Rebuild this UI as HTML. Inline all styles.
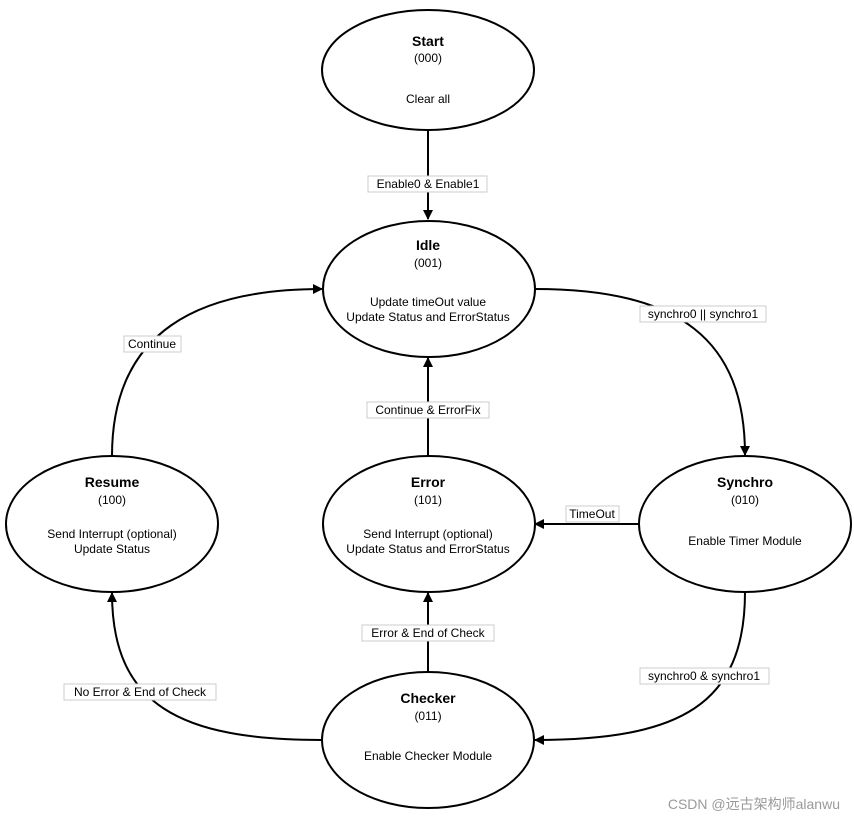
<!DOCTYPE html>
<html><head><meta charset="utf-8"><style>
html,body{margin:0;padding:0;background:#fff;}
svg{display:block;}
text{font-family:"Liberation Sans","Noto Sans CJK SC",sans-serif;font-size:12px;fill:#000;}
.t{font-weight:bold;font-size:14px;}
.lb{fill:#fff;stroke:#ccc;stroke-width:1;}
</style></head><body>
<svg width="854" height="822" viewBox="0 0 854 822" xmlns="http://www.w3.org/2000/svg">
<defs><marker id="a" markerWidth="10" markerHeight="10" refX="9" refY="5" orient="auto" markerUnits="userSpaceOnUse"><path d="M0,0 L10,5 L0,10 z" fill="#000"/></marker></defs>
<g fill="none" stroke="#000" stroke-width="2">
<path d="M428,131 L428,219" marker-end="url(#a)"/>
<path d="M535,289 C680,289 745,340 745,455" marker-end="url(#a)"/>
<path d="M112,456 C112,330 200,289 322,289" marker-end="url(#a)"/>
<path d="M428,456 L428,358" marker-end="url(#a)"/>
<path d="M639,524 L535,524" marker-end="url(#a)"/>
<path d="M745,592 C745,705 680,740 535,740" marker-end="url(#a)"/>
<path d="M428,672 L428,593" marker-end="url(#a)"/>
<path d="M322,740 C180,740 112,705 112,593" marker-end="url(#a)"/>
</g>
<g fill="#fff" stroke="#000" stroke-width="2">
<ellipse cx="428" cy="70" rx="106" ry="60"/>
<ellipse cx="429" cy="289" rx="106" ry="68"/>
<ellipse cx="112" cy="524" rx="106" ry="68"/>
<ellipse cx="429" cy="524" rx="106" ry="68"/>
<ellipse cx="745" cy="524" rx="106" ry="68"/>
<ellipse cx="428" cy="740" rx="106" ry="68"/>
</g>
<g text-anchor="middle">
<text class="t" x="428" y="46">Start</text><text x="428" y="62">(000)</text><text x="428" y="103">Clear all</text>
<text class="t" x="428" y="250">Idle</text><text x="428" y="267">(001)</text><text x="428" y="306">Update timeOut value</text><text x="428" y="321">Update Status and ErrorStatus</text>
<text class="t" x="112" y="487">Resume</text><text x="112" y="504">(100)</text><text x="112" y="538">Send Interrupt (optional)</text><text x="112" y="553">Update Status</text>
<text class="t" x="428" y="487">Error</text><text x="428" y="504">(101)</text><text x="428" y="538">Send Interrupt (optional)</text><text x="428" y="553">Update Status and ErrorStatus</text>
<text class="t" x="745" y="487">Synchro</text><text x="745" y="504">(010)</text><text x="745" y="545">Enable Timer Module</text>
<text class="t" x="428" y="703">Checker</text><text x="428" y="720">(011)</text><text x="428" y="760">Enable Checker Module</text>
</g>
<g>
<rect class="lb" x="368" y="176" width="119" height="16"/>
<rect class="lb" x="640" y="306" width="126" height="16"/>
<rect class="lb" x="124" y="336" width="57" height="16"/>
<rect class="lb" x="367" y="402" width="122" height="16"/>
<rect class="lb" x="566" y="506" width="53" height="16"/>
<rect class="lb" x="640" y="668" width="129" height="16"/>
<rect class="lb" x="362" y="625" width="132" height="16"/>
<rect class="lb" x="64" y="684" width="152" height="16"/>
</g>
<g text-anchor="middle">
<text x="428" y="188">Enable0 &amp; Enable1</text>
<text x="703" y="318">synchro0 || synchro1</text>
<text x="152" y="348">Continue</text>
<text x="428" y="414">Continue &amp; ErrorFix</text>
<text x="592" y="518">TimeOut</text>
<text x="704" y="680">synchro0 &amp; synchro1</text>
<text x="428" y="637">Error &amp; End of Check</text>
<text x="140" y="696">No Error &amp; End of Check</text>
</g>
<text x="840" y="809" text-anchor="end" style="font-size:14px;fill:#9a9a9a">CSDN @远古架构师alanwu</text>
</svg>
</body></html>
